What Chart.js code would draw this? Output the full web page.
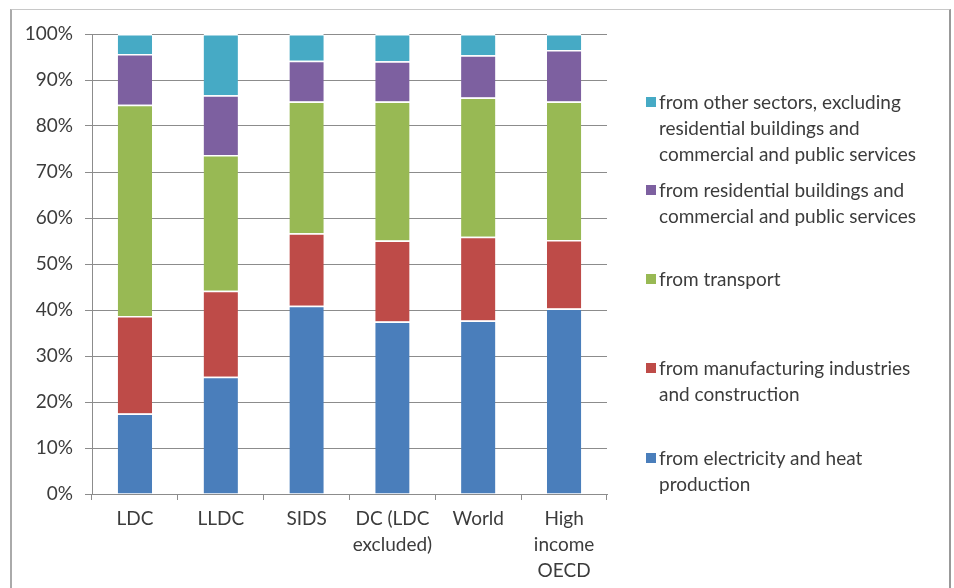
<!DOCTYPE html>
<html>
<head>
<meta charset="utf-8">
<script src="https://cdn.jsdelivr.net/npm/chart.js@4.4.1/dist/chart.umd.min.js"></script>
<style>
  body { margin: 0; background: #fff; }
  #wrap { position: relative; width: 954px; height: 588px; overflow: hidden; }
  #frame { position: absolute; left: 10px; top: 9px; width: 937px; height: 620px;
           border-top: 1px solid #c8c8c8; border-left: 2px solid #aaa; border-right: 2px solid #999; }
  canvas { position: absolute; left: 0; top: 0; }
  #legend { position: absolute; left: 646px; top: 0; font-family: Lato, sans-serif;
            font-size: 19px; color: #3c3c3c; }
  .item { position: absolute; left: 0; white-space: nowrap; line-height: 26px; }
  .box { position: absolute; left: 0; top: 8px; width: 10px; height: 10px; }
  .txt { margin-left: 13px; }
</style>
</head>
<body>
<div id="wrap">
  <div id="frame"></div>
  <canvas id="chart" width="954" height="588"></canvas>
  <div id="legend"></div>
</div>
<script>
// --- data (percent of total, stacked bottom to top) ---
const categories = ['LDC', 'LLDC', 'SIDS', ['DC (LDC', 'excluded)'], 'World', ['High', 'income', 'OECD']];
const electricity   = [17.5, 25.5, 40.9, 37.5, 37.7, 40.3];
const manufacturing = [21.2, 18.7, 15.8, 17.6, 18.2, 14.9];
const transport     = [45.9, 29.5, 28.6, 30.2, 30.3, 30.1];
const residential   = [11.05, 13.0, 8.9, 8.8, 9.2, 11.2];
const otherSectors  = [4.35, 13.3, 5.8, 5.9, 4.6, 3.5];
const yTicks = [0, 10, 20, 30, 40, 50, 60, 70, 80, 90, 100];

const seriesNames = [
    ['from electricity and heat', 'production'],
    ['from manufacturing industries', 'and construction'],
    ['from transport'],
    ['from residential buildings and', 'commercial and public services'],
    ['from other sectors, excluding', 'residential buildings and', 'commercial and public services']
];
const seriesColors = ['#4a7ebb', '#be4b48', '#98b954', '#7d60a0', '#46aac5'];
const seriesData = [electricity, manufacturing, transport, residential, otherSectors];

const textColor = '#3c3c3c';
const gridColor = '#8c8c8c';

const datasets = seriesData.map((d, i) => ({
    label: seriesNames[i].join(' '),
    data: d,
    backgroundColor: seriesColors[i],
    borderColor: '#ffffff',
    borderWidth: { top: 1.5, left: 0, right: 0, bottom: 0 },
    borderSkipped: false,
    barPercentage: 0.4,
    categoryPercentage: 1
}));

new Chart(document.getElementById('chart'), {
    type: 'bar',
    data: { labels: categories, datasets: datasets },
    options: {
        responsive: false,
        animation: false,
        layout: { padding: { left: 0, top: 34, right: 347, bottom: 0 } },
        plugins: { legend: { display: false }, tooltip: { enabled: false } },
        scales: {
            x: {
                stacked: true,
                grid: { drawOnChartArea: false, offset: true, tickLength: 6, color: gridColor },
                border: { color: gridColor },
                ticks: {
                    color: textColor, padding: 6,
                    font: { family: 'Lato', size: 19, lineHeight: 1.37 },
                    maxRotation: 0, autoSkip: false
                },
                afterFit: (scale) => { scale.height = 94; }
            },
            y: {
                stacked: true,
                min: 0, max: 100,
                afterBuildTicks: (scale) => { scale.ticks = yTicks.map(v => ({ value: v })); },
                grid: { color: gridColor, tickLength: 7 },
                border: { color: gridColor },
                ticks: {
                    color: textColor, padding: 12,
                    font: { family: 'Lato', size: 19 },
                    callback: (v) => v + '%'
                },
                afterFit: (scale) => { scale.width = 92; }
            }
        }
    }
});

// --- legend (reversed, drawn as html) ---
const legendTops = [445, 355, 266, 177, 89];
const legendEl = document.getElementById('legend');
seriesNames.forEach((lines, i) => {
    const item = document.createElement('div');
    item.className = 'item';
    item.style.top = legendTops[i] + 'px';
    item.innerHTML = '<div class="box" style="background:' + seriesColors[i] + '"></div>' +
        '<div class="txt">' + lines.join('<br>') + '</div>';
    legendEl.appendChild(item);
});
</script>
</body>
</html>
